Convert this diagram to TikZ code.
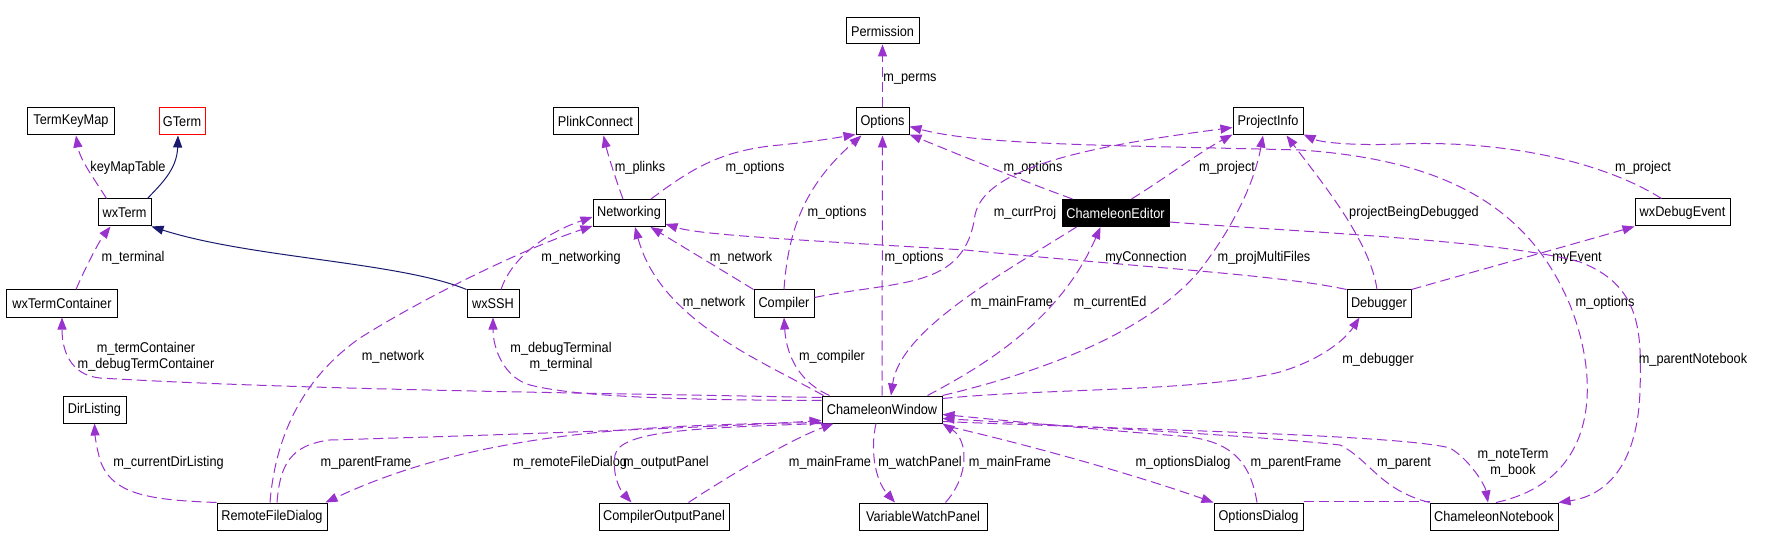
\documentclass[tikz,border=0pt]{standalone}
\usepackage{fontspec}
\newfontfamily\dfont{Liberation Sans}[FakeStretch=0.9]
\usetikzlibrary{arrows.meta,calc}
\definecolor{epurple}{HTML}{9A32CD}
\definecolor{enavy}{HTML}{191970}
\definecolor{ered}{HTML}{FF0000}
\begin{document}
\begin{tikzpicture}[x=1bp,y=-1bp,
  cls/.style={draw=black,line width=1bp,minimum height=27bp,inner sep=0pt,fill=white,font=\dfont\fontsize{14.2}{16}\selectfont},
  uses/.style={draw=epurple,line width=1bp,dash pattern=on 10bp off 5bp,-{Triangle[length=12bp,width=9bp]}},
  plainuse/.style={draw=epurple,line width=1bp,dash pattern=on 10bp off 5bp},
  inh/.style={draw=enavy,line width=1bp,-{Triangle[length=12bp,width=9bp]}},
  lbl/.style={inner sep=0pt,font=\dfont\fontsize{14.2}{16}\selectfont,text height=10.5bp,text depth=3bp},
  lbltwo/.style={inner sep=0pt,font=\dfont\fontsize{14.2}{16}\selectfont,align=center},
]
\fill[white] (0,0) rectangle (1773,547);
\useasboundingbox (0,0) rectangle (1773,547);

% nodes
\node[cls,minimum width=73bp,minimum height=26bp] (perm) at (882.5,31) {Permission};
\node[cls,minimum width=53bp] (opts) at (882.5,121.5) {Options};
\node[cls,minimum width=85bp] (plink) at (595.5,121.5) {PlinkConnect};
\node[cls,minimum width=86bp] (tkm) at (71,121.5) {TermKeyMap};
\node[cls,draw=ered,minimum width=46bp] (gterm) at (182,121.5) {GTerm};
\node[cls,minimum width=70bp] (pinfo) at (1268,121.5) {ProjectInfo};
\node[cls,minimum width=53bp] (wxterm) at (124.5,212.5) {wxTerm};
\node[cls,minimum width=72bp] (net) at (629,213) {Networking};
\node[cls,fill=black,text=white,minimum width=107bp] (ced) at (1115.5,213) {ChameleonEditor};
\node[cls,minimum width=95bp] (wxde) at (1682.5,212.5) {wxDebugEvent};
\node[cls,minimum width=110bp] (wxtc) at (62,303.5) {wxTermContainer};
\node[cls,minimum width=52bp] (wxssh) at (493,303.5) {wxSSH};
\node[cls,minimum width=60bp] (comp) at (784,303.5) {Compiler};
\node[cls,minimum width=64bp] (dbg) at (1379,303.5) {Debugger};
\node[cls,minimum width=63bp] (dirl) at (94.5,409.5) {DirListing};
\node[cls,minimum width=120bp] (cw) at (882,409.5) {ChameleonWindow};
\node[cls,minimum width=110bp] (rfd) at (272,516.5) {RemoteFileDialog};
\node[cls,minimum width=130bp] (cop) at (664,516.5) {CompilerOutputPanel};
\node[cls,minimum width=128bp] (vwp) at (923,516.5) {VariableWatchPanel};
\node[cls,minimum width=89bp] (od) at (1258.5,516.5) {OptionsDialog};
\node[cls,minimum width=128bp] (cn) at (1494,516.5) {ChameleonNotebook};

% inheritance
\draw[inh] ($(wxterm.north east)+(-4,0)$) .. controls (160,185) and (177,170) .. ($(gterm.south)+(-4,0)$);
\draw[inh] (wxssh.north west) .. controls (400,262) and (250,258) .. (wxterm.south east);

% usage
\draw[uses] ($(wxterm.north west)+(9,0)$) .. controls (95,180) and (80,160) .. ($(tkm.south)+(5,0)$);
\node[lbl] (lkmt) at (128,168) {keyMapTable};

\draw[uses] ($(wxtc.north)+(14,0)$) .. controls (85,268) and (100,240) .. ($(wxterm.south west)+(13,0)$);
\node[lbl] (lterm) at (133,258) {m\_terminal};

\draw[uses] ($(wxssh.north)+(8,0)$) .. controls (510,262) and (540,235) .. ($(net.west)+(0,4)$);
\node[lbl] (lnetw) at (581,258) {m\_networking};

\draw[uses] ($(rfd.north)+(-2,0)$) .. controls (275,440) and (300,380) .. (360,338) .. controls (420,300) and (520,250) .. ($(net.south west)+(0,-1)$);
\node[lbl] (lnet1) at (393,357) {m\_network};

\draw[uses] ($(net.north)+(-6,0)$) .. controls (616,180) and (608,155) .. ($(plink.south)+(8,0)$);
\node[lbl] (lplinks) at (640,168) {m\_plinks};

\draw[uses] ($(net.north)+(22,0)$) .. controls (690,170) and (720,150) .. (780,145) .. controls (810,142) and (835,138) .. ($(opts.south west)+(0,-1)$);
\node[lbl] (lopt1) at (755,168) {m\_options};

\draw[uses] (comp.north) .. controls (788,230) and (805,185) .. ($(opts.south west)+(6,0)$);
\node[lbl] (lopt2) at (837,213) {m\_options};

\draw[uses] (comp.north west) .. controls (725,272) and (680,245) .. ($(net.south east)+(-15,0)$);
\node[lbl] (lnet2) at (741,258) {m\_network};

\draw[uses] ($(cw.north west)+(2,0)$) .. controls (760,360) and (660,320) .. ($(net.south)+(6,0)$);
\node[lbl] (lnet3) at (714,303) {m\_network};

\draw[uses] (cw.north) -- (opts.south);
\node[lbl] (lopt3) at (914,258) {m\_options};

\draw[uses] (opts.north) -- (perm.south);
\node[lbl] (lperms) at (910,78) {m\_perms};

\draw[uses] ($(ced.north west)+(11,0)$) .. controls (1020,180) and (960,155) .. ($(opts.south east)+(0,-1)$);
\node[lbl] (lopt4) at (1033,168) {m\_options};

\draw[uses] ($(ced.north west)+(70,0)$) .. controls (1170,175) and (1200,152) .. ($(pinfo.south west)+(0,-1)$);
\node[lbl] (lproj1) at (1227,168) {m\_project};

\draw[uses] ($(comp.east)+(0,-6)$) .. controls (900,280) and (965,290) .. (975,215) .. controls (985,165) and (1100,145) .. ($(pinfo.west)+(0,6)$);
\node[lbl] (lcurr) at (1025,213) {m\_currProj};

\draw[uses] ($(ced.south west)+(15,0)$) .. controls (1000,275) and (900,330) .. ($(cw.north)+(9,0)$);
\node[lbl] (lmf1) at (1012,303) {m\_mainFrame};

\draw[uses] ($(cw.north east)+(-15,0)$) .. controls (985,365) and (1060,320) .. ($(ced.south west)+(39,0)$);
\node[lbl] (lced) at (1110,303) {m\_currentEd};

\draw[uses] (cw.north east) .. controls (1050,370) and (1150,330) .. (1200,270) .. controls (1235,225) and (1255,180) .. ($(pinfo.south)+(-5,0)$);
\node[lbl] (lpmf) at (1264,258) {m\_projMultiFiles};

\draw[uses] ($(dbg.north)+(-2,0)$) .. controls (1370,240) and (1320,180) .. ($(pinfo.south east)+(-17,0)$);
\node[lbl] (lpbd) at (1414,213) {projectBeingDebugged};

\draw[uses] (dbg.north west) .. controls (1280,275) and (1150,268) .. (965,250) .. controls (800,240) and (700,235) .. ($(net.south east)+(0,-3)$);
\node[lbl] (lmyc) at (1146,258) {myConnection};

\draw[uses] (dbg.north east) .. controls (1480,270) and (1570,245) .. (wxde.south west);
\node[lbl] (lmye) at (1577,258) {myEvent};

\draw[uses] ($(wxde.north west)+(27,0)$) .. controls (1600,160) and (1500,140) .. (1400,144) .. controls (1350,146) and (1320,142) .. ($(pinfo.south east)+(0,-1)$);
\node[lbl] (lproj2) at (1643,168) {m\_project};

\draw[uses] ($(cw.north east)+(0,3)$) .. controls (1050,388) and (1200,392) .. (1280,372) .. controls (1320,360) and (1345,340) .. ($(dbg.south west)+(13,0)$);
\node[lbl] (ldbg) at (1378,360) {m\_debugger};

\draw[uses] ($(cn.north)+(2,0)$) .. controls (1600,480) and (1600,380) .. (1570,305) .. controls (1530,210) and (1450,160) .. (1300,150) .. controls (1100,145) and (980,145) .. ($(opts.east)+(0,5)$);
\node[lbl] (lopt5) at (1605,303) {m\_options};

\draw[uses] ($(ced.east)+(0,9)$) .. controls (1300,232) and (1500,240) .. (1580,262) .. controls (1640,285) and (1642,330) .. (1640,390) .. controls (1638,460) and (1610,495) .. (cn.north east);
\node[lbl] (lpnb) at (1693,360) {m\_parentNotebook};

\draw[uses] ($(cw.north west)+(0,2)$) .. controls (600,393) and (300,390) .. (100,378) .. controls (70,375) and (62,350) .. (wxtc.south);
\node[lbltwo] (ltc) at (146,357) {m\_termContainer\\m\_debugTermContainer};

\draw[uses] ($(cw.north west)+(0,5)$) .. controls (700,400) and (580,398) .. (530,385) .. controls (505,378) and (493,350) .. (wxssh.south);
\node[lbltwo] (ldt) at (561,357) {m\_debugTerminal\\m\_terminal};

\draw[uses] ($(cw.north west)+(8,0)$) .. controls (795,380) and (786,350) .. (comp.south);
\node[lbl] (lcomp) at (832,357) {m\_compiler};

\draw[uses] (rfd.north west) .. controls (150,500) and (112,495) .. (100,460) .. controls (96,445) and (95,435) .. (dirl.south);
\node[lbl] (ldir) at (168.5,463) {m\_currentDirListing};

\draw[uses] ($(rfd.north)+(5,0)$) .. controls (280,465) and (290,445) .. (330,440) .. controls (500,435) and (700,428) .. ($(cw.south west)+(0,-3)$);
\node[lbl] (lpf1) at (366,463) {m\_parentFrame};

\draw[uses] ($(cw.south west)+(0,-1)$) .. controls (650,425) and (480,430) .. ($(rfd.north east)+(-2,0)$);
\node[lbl] (lrfd) at (570,463) {m\_remoteFileDialog};

\draw[uses] (cw.south west) .. controls (700,428) and (620,430) .. (615,455) .. controls (612,475) and (620,490) .. ($(cop.north west)+(33,0)$);
\node[lbl] (lop) at (666,463) {m\_outputPanel};

\draw[uses] ($(cop.north east)+(-41,0)$) .. controls (730,475) and (790,440) .. ($(cw.south west)+(12,0)$);
\node[lbl] (lmf2) at (830,463) {m\_mainFrame};

\draw[uses] ($(cw.south)+(-6,0)$) .. controls (870,450) and (875,480) .. ($(vwp.north)+(-28,0)$);
\node[lbl] (lwp) at (920,463) {m\_watchPanel};

\draw[uses] ($(vwp.north east)+(-42,0)$) .. controls (970,475) and (968,440) .. (cw.south east);
\node[lbl] (lmf3) at (1010,463) {m\_mainFrame};

\draw[uses] ($(cw.south east)+(6,3)$) .. controls (1050,450) and (1150,480) .. (od.north west);
\node[lbl] (lod) at (1183,463) {m\_optionsDialog};

\draw[uses] ($(od.north)+(-1.5,0)$) .. controls (1250,460) and (1230,440) .. (1180,436) .. controls (1100,430) and (1000,420) .. ($(cw.east)+(0,5)$);
\node[lbl] (lpf2) at (1296,463) {m\_parentFrame};

\draw[uses] (cn.north west) .. controls (1380,490) and (1370,460) .. (1340,445) .. controls (1250,435) and (1050,425) .. ($(cw.east)+(0,9)$);
\node[lbl] (lpar) at (1404,463) {m\_parent};

\draw[uses] ($(cw.east)+(0,12)$) .. controls (1150,430) and (1400,435) .. (1450,448) .. controls (1470,460) and (1485,485) .. ($(cn.north)+(-6,0)$);
\node[lbltwo] (lnt) at (1513,463) {m\_noteTerm\\m\_book};

\draw[plainuse] ($(od.north east)+(0,-1)$) -- ($(cn.north west)+(0,-1)$);
\end{tikzpicture}
\end{document}
